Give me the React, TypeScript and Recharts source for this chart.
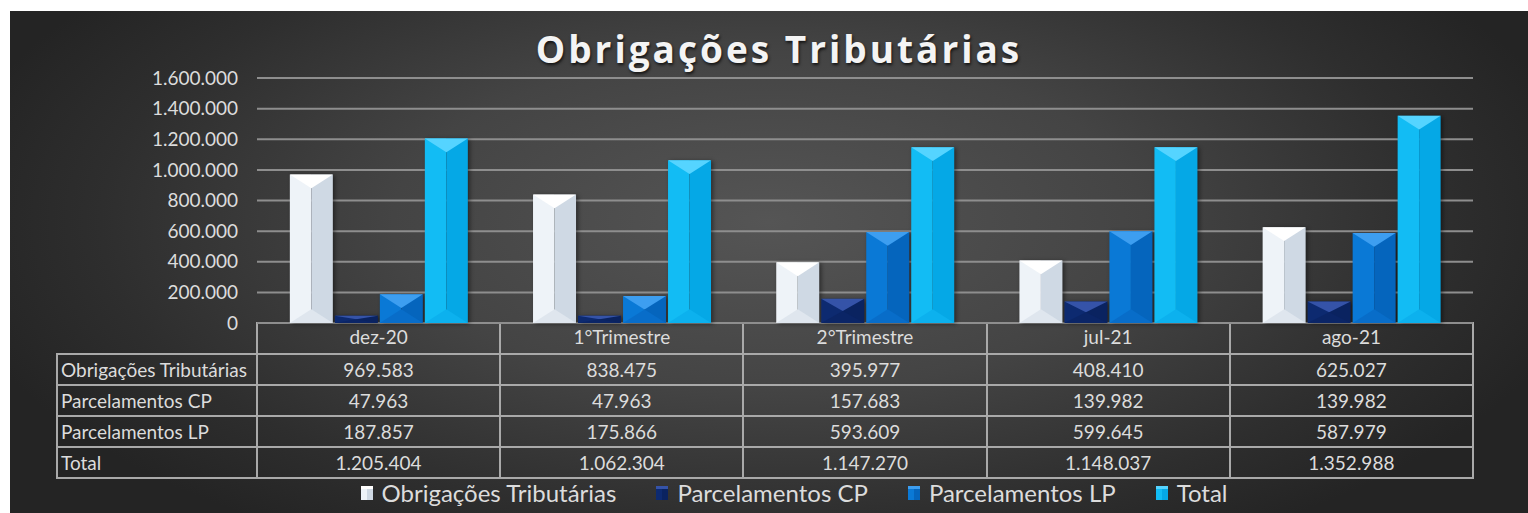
import React from "react";
import { BarChart, Bar, XAxis, YAxis, CartesianGrid } from "recharts";

const categories = ["dez-20", "1°Trimestre", "2°Trimestre", "jul-21", "ago-21"];
const obrigacoes = [969583, 838475, 395977, 408410, 625027];
const parcelamentosCP = [47963, 47963, 157683, 139982, 139982];
const parcelamentosLP = [187857, 175866, 593609, 599645, 587979];
const totalValues = [1205404, 1062304, 1147270, 1148037, 1352988];
const yTicks = [0, 200000, 400000, 600000, 800000, 1000000, 1200000, 1400000, 1600000];

const seriesNames = ["Obrigações Tributárias", "Parcelamentos CP", "Parcelamentos LP", "Total"];
const seriesKeys = ["obr", "cp", "lp", "tot"];
const seriesValues = [obrigacoes, parcelamentosCP, parcelamentosLP, totalValues];

// bevel palettes: top, left half, right half, bottom
const palettes = [
  { top: "#ffffff", left: "#eef3f8", right: "#cfd9e4", bottom: "#dfe6ee" },
  { top: "#3553a8", left: "#0d2a70", right: "#0a2360", bottom: "#0b2566" },
  { top: "#3d9ef0", left: "#0a79d6", right: "#0565bd", bottom: "#086dc9" },
  { top: "#55d4ff", left: "#12bcf4", right: "#05a8e6", bottom: "#0cb1ee" },
];

const data = categories.map((c, i) => ({
  name: c,
  obr: obrigacoes[i],
  cp: parcelamentosCP[i],
  lp: parcelamentosLP[i],
  tot: totalValues[i],
}));

const fmt = (v: number) => String(v).replace(/\B(?=(\d{3})+(?!\d))/g, ".");

const FONT = "Lato, 'Open Sans', sans-serif";
const TEXT = "#dcdcdc";
const LINE = "#a9a9a9";

function BevelBar(props: any) {
  const { x, y, width, height, pal } = props;
  if (!height || height <= 0) return null;
  const w = width;
  const h = height;
  const d = Math.min(w * 0.32, h / 2);
  const mid = x + w / 2;
  return (
    <g style={{ filter: "drop-shadow(2px 1px 2px rgba(0,0,0,0.45))" }}>
      <rect x={x} y={y} width={w / 2} height={h} fill={pal.left} />
      <rect x={mid} y={y} width={w / 2} height={h} fill={pal.right} />
      <polygon points={`${x},${y} ${x + w},${y} ${mid},${y + d}`} fill={pal.top} />
      <polygon points={`${x},${y + h} ${mid},${y + h - d} ${x + w},${y + h}`} fill={pal.bottom} />
    </g>
  );
}

function HeaderTick(props: any) {
  const { x, y, payload } = props;
  return (
    <text x={x} y={y + 16} textAnchor="middle" dominantBaseline="middle" fill={TEXT} fontSize={19} fontFamily={FONT}>
      {payload.value}
    </text>
  );
}

function ChartLegend() {
  return (
    <div
      style={{
        position: "absolute",
        left: 30,
        width: 1528,
        top: 478,
        display: "flex",
        justifyContent: "center",
        gap: 40,
        fontFamily: FONT,
        fontSize: 24,
        lineHeight: "30px",
        color: TEXT,
      }}
    >
      {seriesNames.map((n, i) => (
        <div key={n} style={{ display: "flex", alignItems: "center", gap: 9 }}>
          <span
            style={{
              width: 12,
              height: 14,
              display: "inline-block",
              background: `linear-gradient(90deg, ${palettes[i].left} 50%, ${palettes[i].right} 50%)`,
              borderTop: `3px solid ${palettes[i].top}`,
              boxSizing: "border-box",
            }}
          />
          <span>{n}</span>
        </div>
      ))}
    </div>
  );
}

const colWidths = [200, 243.2, 243.2, 243.2, 243.2, 243.2];

function DataTable() {
  const cell: React.CSSProperties = {
    border: `2px solid ${LINE}`,
    padding: 0,
    height: 29,
    textAlign: "center",
    color: TEXT,
    fontFamily: FONT,
    fontSize: 19,
    lineHeight: "29px",
    whiteSpace: "nowrap",
    overflow: "hidden",
  };
  return (
    <table
      style={{
        position: "absolute",
        left: 56,
        top: 322,
        width: 1418,
        borderCollapse: "collapse",
        tableLayout: "fixed",
      }}
    >
      <colgroup>
        {colWidths.map((w, i) => (
          <col key={i} style={{ width: w }} />
        ))}
      </colgroup>
      <tbody>
        <tr>
          <td style={{ ...cell, height: 28, border: "none", borderRight: `2px solid ${LINE}` }} />
          {categories.map((c) => (
            <td key={c} style={{ ...cell, height: 28, color: "transparent" }}>
              {c}
            </td>
          ))}
        </tr>
        {seriesNames.map((n, si) => (
          <tr key={n}>
            <td style={{ ...cell, textAlign: "left", paddingLeft: 3 }}>{n}</td>
            {seriesValues[si].map((v, i) => (
              <td key={i} style={cell}>
                {fmt(v)}
              </td>
            ))}
          </tr>
        ))}
      </tbody>
    </table>
  );
}

export default function App() {
  return (
    <div style={{ position: "absolute", left: 0, top: 0, width: 1528, height: 513, background: "#ffffff", overflow: "hidden" }}>
      <div
        style={{
          position: "absolute",
          left: 10,
          top: 11,
          width: 1518,
          height: 502,
          background: "radial-gradient(ellipse 55% 75% at 50% 42%, #555555 0%, #444444 45%, #2e2e2e 80%, #242424 100%)",
        }}
      />
      <div
        style={{
          position: "absolute",
          left: 0,
          width: 1558,
          top: 26,
          textAlign: "center",
          fontFamily: "'Open Sans', sans-serif",
          fontWeight: 700,
          fontSize: 37,
          letterSpacing: 3,
          color: "#f4f4f4",
          textShadow: "1px 2px 3px rgba(0,0,0,0.7)",
          lineHeight: "46px",
        }}
      >
        Obrigações Tributárias
      </div>
      <DataTable />
      <div style={{ position: "absolute", left: 0, top: 0 }}>
        <BarChart
          width={1528}
          height={513}
          data={data}
          margin={{ top: 78, right: 55, bottom: 160, left: 0 }}
          barCategoryGap="13.5%"
          barGap={2}
        >
          <CartesianGrid vertical={false} stroke="#8e8e8e" strokeWidth={2} />
          <XAxis
            dataKey="name"
            axisLine={false}
            tickLine={false}
            tickSize={0}
            tickMargin={0}
            height={30}
            tick={<HeaderTick />}
            interval={0}
          />
          <YAxis
            width={257}
            domain={[0, 1600000]}
            ticks={yTicks}
            axisLine={false}
            tickLine={false}
            tickMargin={13}
            tickFormatter={fmt}
            tick={{ fill: TEXT, fontSize: 19, fontFamily: FONT }}
          />
          {seriesKeys.map((k, i) => (
            <Bar
              key={k}
              dataKey={k}
              name={seriesNames[i]}
              isAnimationActive={false}
              shape={(p: any) => <BevelBar {...p} pal={palettes[i]} />}
            />
          ))}
        </BarChart>
      </div>
      <ChartLegend />
    </div>
  );
}
